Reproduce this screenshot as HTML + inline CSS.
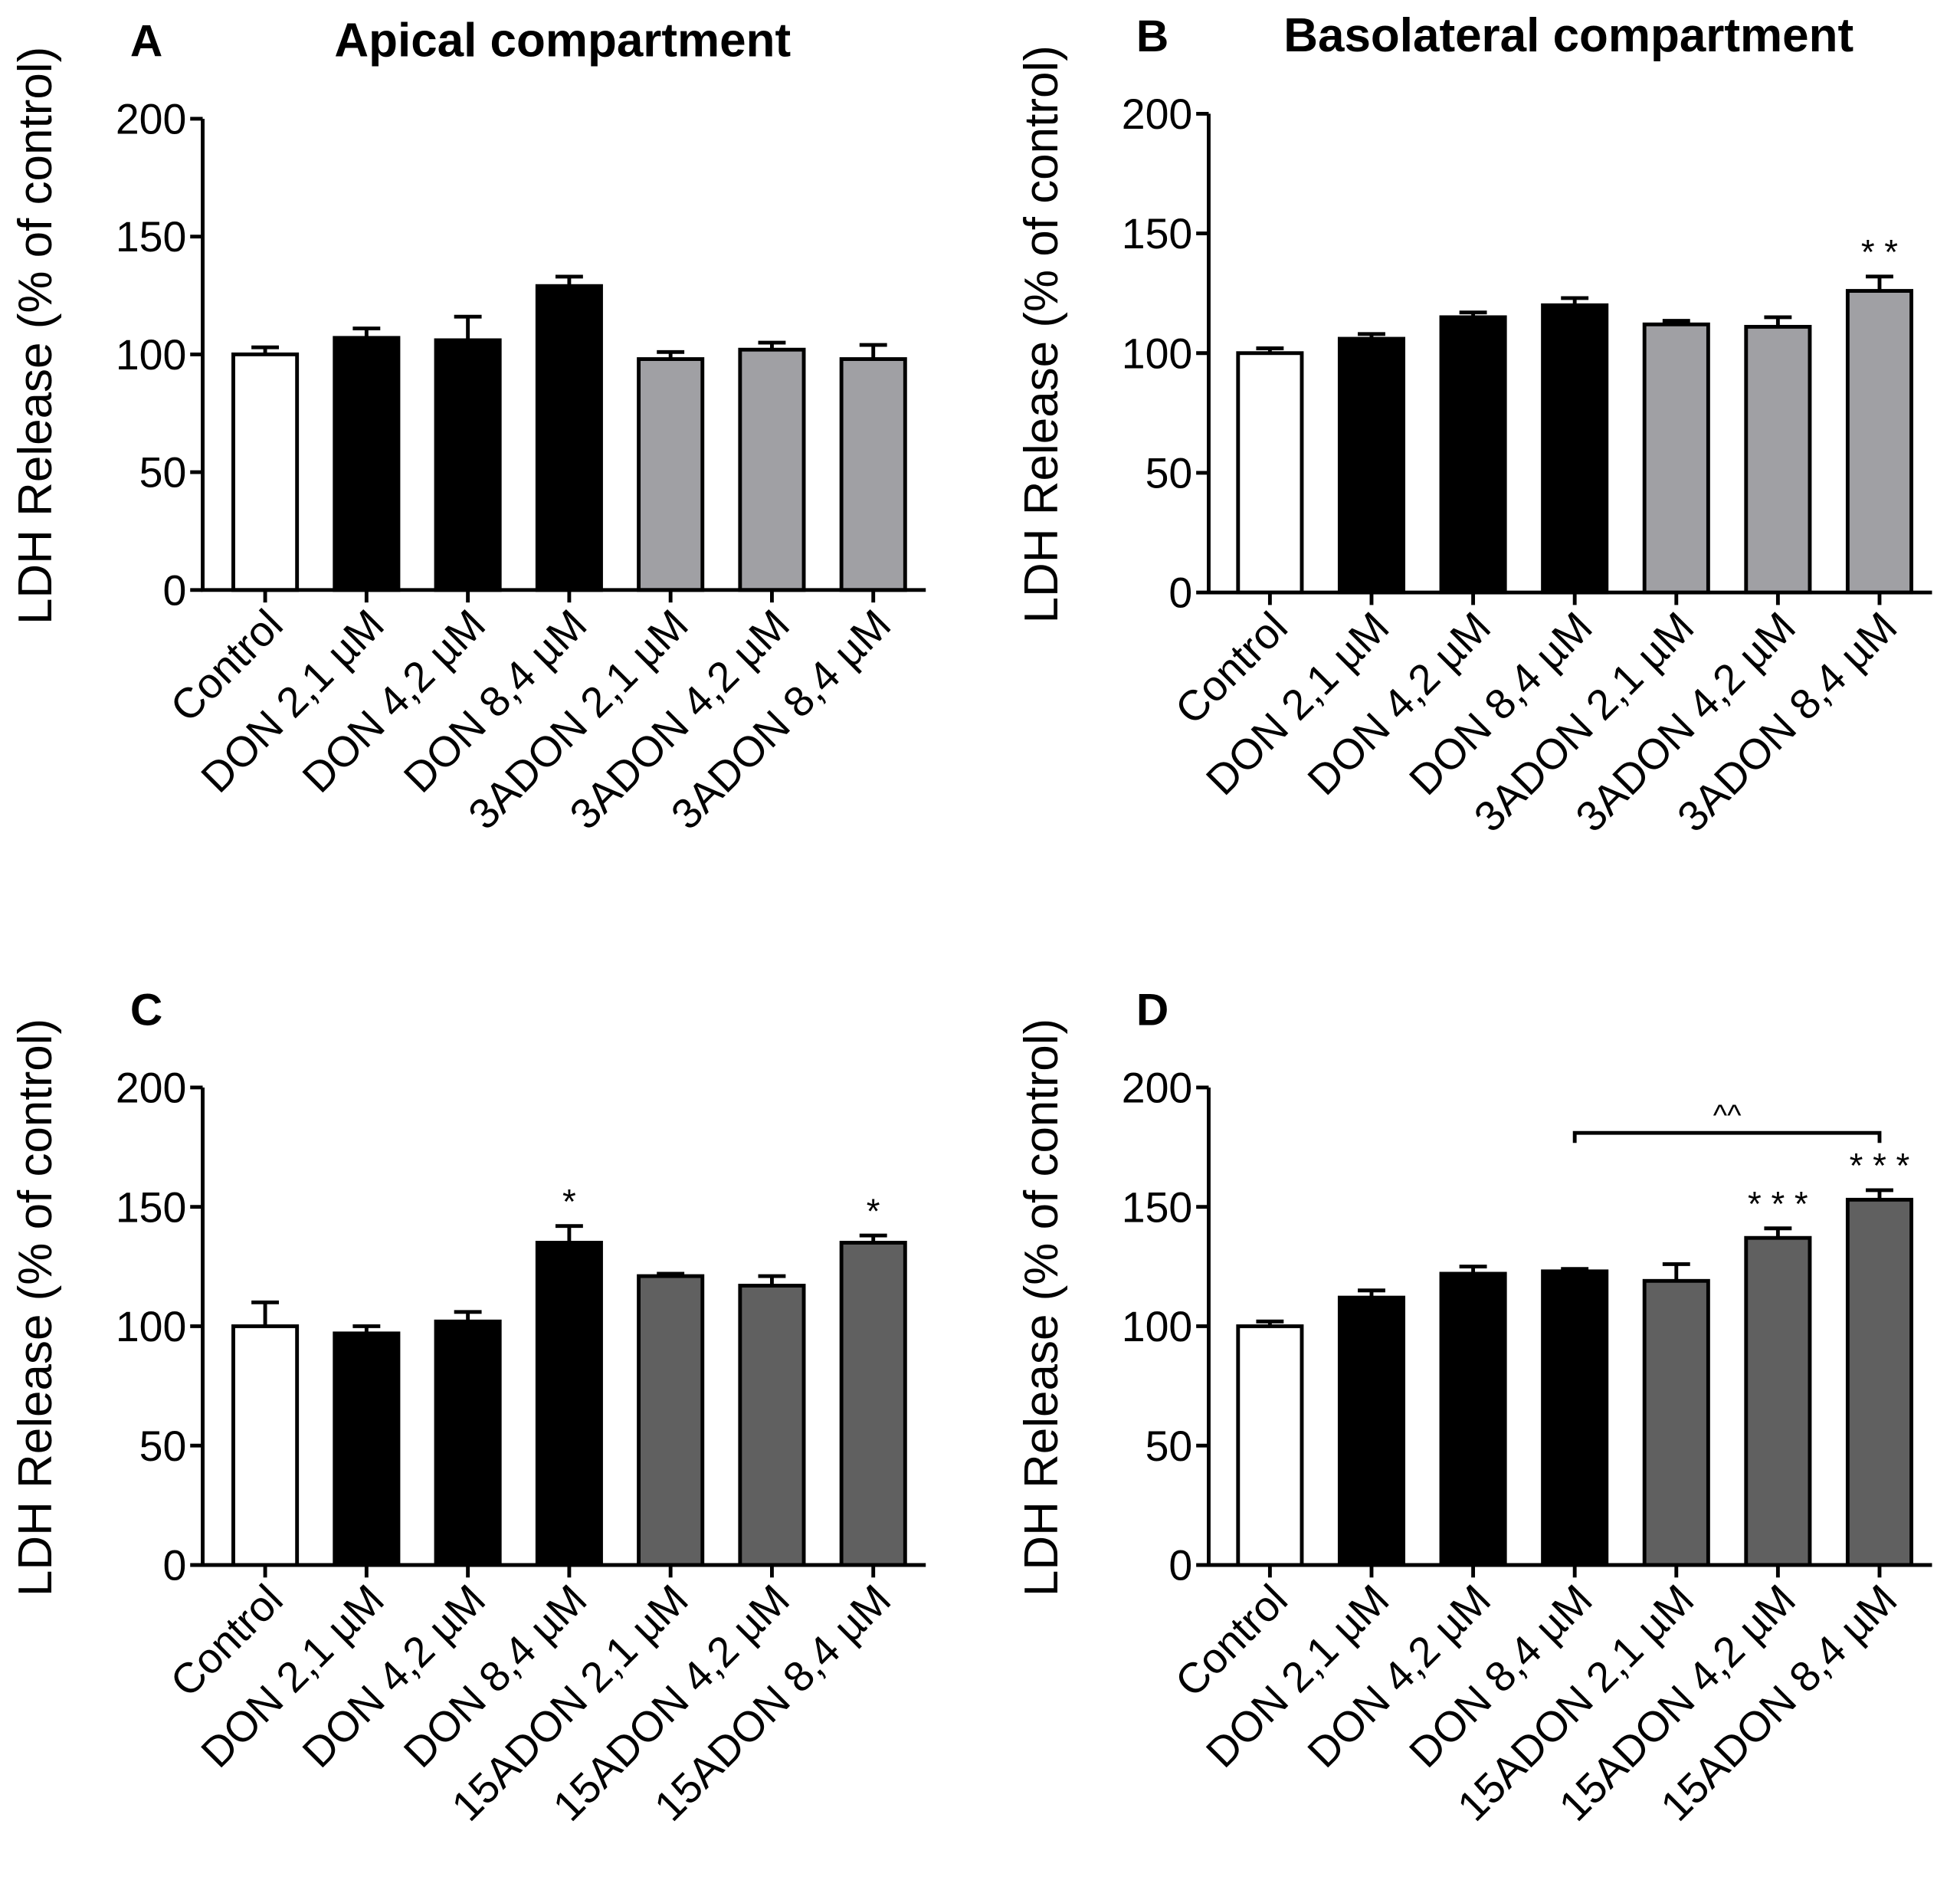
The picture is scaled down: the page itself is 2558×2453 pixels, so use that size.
<!DOCTYPE html>
<html><head><meta charset="utf-8"><style>
html,body{margin:0;padding:0;background:#fff}
svg{display:block}
text{font-family:"Liberation Sans",Arial,sans-serif;fill:#000}
</style></head><body>
<svg id="fig" width="2558" height="2453" viewBox="0 0 1568 1504" xmlns="http://www.w3.org/2000/svg"></svg>
<script>
const labelsAB = ["Control","DON 2,1 µM","DON 4,2 µM","DON 8,4 µM","3ADON 2,1 µM","3ADON 4,2 µM","3ADON 8,4 µM"];
const labelsCD = ["Control","DON 2,1 µM","DON 4,2 µM","DON 8,4 µM","15ADON 2,1 µM","15ADON 4,2 µM","15ADON 8,4 µM"];
const valuesA = [100,107,106,129,98,102,98];
const errorsA = [3,4,10,4,3,3,6];
const valuesB = [100,106,115,120,112,111,126];
const errorsB = [2,2,2,3,1.5,4,6];
const valuesC = [100,97,102,135,121,117,135];
const errorsC = [10,3,4,7,1,4,3];
const valuesD = [100,112,122,123,119,137,153];
const errorsD = [2,3,3,1,7,4,4];
const starsA = ["","","","","","",""];
const starsB = ["","","","","","","* *"];
const starsC = ["","","","*","","","*"];
const starsD = ["","","","","","* * *","* * *"];
const yTicks = [0,50,100,150,200];

const NS="http://www.w3.org/2000/svg";
const svg=document.getElementById('fig');
function mk(tag,attrs,parent){const e=document.createElementNS(NS,tag);for(const k in attrs)e.setAttribute(k,attrs[k]);(parent||svg).appendChild(e);return e;}

const panels=[
 {id:'a',letter:'A',title:'Apical compartment',ax:162,y0:472,y200:95,x0:212,step:81.1,labels:labelsAB,vals:valuesA,errs:errorsA,stars:starsA,treat:'#a0a0a4',titleX:450},
 {id:'b',letter:'B',title:'Basolateral compartment',ax:967,y0:474,y200:91,x0:1016,step:81.3,labels:labelsAB,vals:valuesB,errs:errorsB,stars:starsB,treat:'#a0a0a4',titleX:1255},
 {id:'c',letter:'C',title:'',ax:162,y0:1252,y200:870,x0:212,step:81.1,labels:labelsCD,vals:valuesC,errs:errorsC,stars:starsC,treat:'#606060'},
 {id:'d',letter:'D',title:'',ax:967,y0:1252,y200:870,x0:1016,step:81.3,labels:labelsCD,vals:valuesD,errs:errorsD,stars:starsD,treat:'#606060',bracket:[3,6,181,'^^']}
];
panels.forEach(p=>{
 const g=mk('g',{});
 
 
 const y=v=>p.y0-(p.y0-p.y200)*v/200;
 const x=i=>p.x0+i*p.step;
 const lt=mk('text',{x:p.ax-58,y:p.y200-50,'font-size':36,'font-weight':'bold'},g);lt.textContent=p.letter;
 
 if(p.title){const t=mk('text',{x:p.titleX,y:p.y200-50,'font-size':38,'font-weight':'bold','text-anchor':'middle'},g);t.textContent=p.title;
  }
 const yt=mk('text',{x:0,y:0,'font-size':38,'text-anchor':'middle',transform:`translate(${p.ax-121},${(p.y0+p.y200)/2-15}) rotate(-90)`},g);
 yt.textContent='LDH Release (% of control)';
 
 p.vals.forEach((v,i)=>{
  const fill=i===0?'#fff':(i<4?'#000':p.treat);
  const eb=mk('path',{d:`M${x(i)} ${y(v)}V${y(v+p.errs[i])}M${x(i)-11} ${y(v+p.errs[i])}H${x(i)+11}`,stroke:'#000','stroke-width':3,fill:'none'},g);
  
  const r=mk('rect',{x:x(i)-25.5,y:y(v),width:51,height:p.y0-y(v),fill:fill,stroke:'#000','stroke-width':3},g);
  
  if(p.stars[i]){const s=mk('text',{x:x(i),y:y(v+p.errs[i])-10,'font-size':28,'text-anchor':'middle'},g);s.textContent=p.stars[i];
   }
  const tk=mk('line',{x1:x(i),x2:x(i),y1:p.y0,y2:p.y0+10,stroke:'#000','stroke-width':3},g);
  
  const lb=mk('text',{x:0,y:0,'font-size':34,'text-anchor':'end',transform:`translate(${x(i)+16},${p.y0+30}) rotate(-45)`},g);
  lb.textContent=p.labels[i];
  
 });
 const axl=mk('path',{d:`M${p.ax} ${p.y200}V${p.y0}H${x(6)+42}`,stroke:'#000','stroke-width':3,fill:'none'},g);
 
 yTicks.forEach(t=>{
  const l=mk('line',{x1:p.ax-10,x2:p.ax,y1:y(t),y2:y(t),stroke:'#000','stroke-width':3},g);
  
  const tx=mk('text',{x:p.ax-13,y:y(t)+12,'font-size':34,'text-anchor':'end'},g);tx.textContent=t;
  
 });
 if(p.bracket){const [a,b,v,s]=p.bracket;
  const br=mk('path',{d:`M${x(a)} ${y(v)+8}V${y(v)}H${x(b)}V${y(v)+8}`,stroke:'#000','stroke-width':3,fill:'none'},g);
  
  const bt=mk('text',{x:(x(a)+x(b))/2,y:y(v)-6,'font-size':24,'text-anchor':'middle'},g);bt.textContent=s;
  }
});
</script>
</body></html>
